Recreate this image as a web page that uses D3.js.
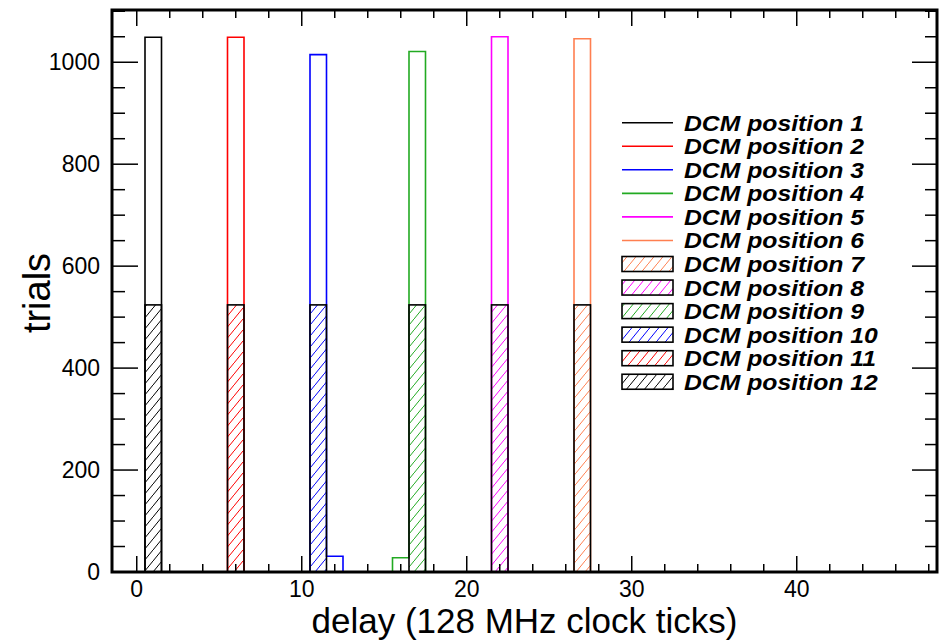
<!DOCTYPE html>
<html><head><meta charset="utf-8">
<script src="https://cdn.jsdelivr.net/npm/d3@7"></script>
<style>body{margin:0;background:#fff}svg{display:block}</style>
</head><body><svg id="c" width="942" height="640"></svg>
<script>
const seriesNames = ["DCM position 1","DCM position 2","DCM position 3","DCM position 4","DCM position 5","DCM position 6","DCM position 7","DCM position 8","DCM position 9","DCM position 10","DCM position 11","DCM position 12"];
const seriesColors = ["#000000","#ff0000","#0000ff","#22aa22","#ff00ff","#ff7f50","#ff7f50","#ff00ff","#22aa22","#0000ff","#ff0000","#000000"];
const seriesHatched = [false,false,false,false,false,false,true,true,true,true,true,true];
const seriesBins = [[1],[6],[11,12],[16,17],[22],[27],[27],[22],[17],[11],[6],[1]];
const seriesCounts = [[1049],[1049],[1015,31],[28,1021],[1050],[1046],[524],[524],[524],[524],[524],[524]];
const xTicks = [0,10,20,30,40];
const yTicks = [0,200,400,600,800,1000];
const xDomain = [-1.5, 48.5];
const binWidth = 1;

const L = 112, R = 937, T = 10, B = 572;
const svg = d3.select("#c");
const maxCount = d3.max(seriesCounts.flat());
const x = d3.scaleLinear().domain(xDomain).range([L, R]);
const y = d3.scaleLinear().domain([0, maxCount * 1.05]).range([B, T]);

// hatch patterns
const defs = svg.append("defs");
const hp = 9, hh = 11;
seriesColors.forEach((c, i) => {
  if (!seriesHatched[i]) return;
  const p = defs.append("pattern").attr("id", "hatch" + i)
    .attr("patternUnits", "userSpaceOnUse").attr("width", hp).attr("height", hh);
  p.append("line").attr("x1", -1).attr("y1", hh + hh / hp).attr("x2", hp + 1).attr("y2", -hh / hp)
    .attr("stroke", c).attr("stroke-width", 1);
});

const plot = svg.append("g");
// outline histograms first
seriesNames.forEach((n, i) => {
  if (seriesHatched[i]) return;
  const bins = seriesBins[i], counts = seriesCounts[i];
  let d = "";
  bins.forEach((b, k) => {
    const lo = b - binWidth / 2, hi = b + binWidth / 2;
    if (k === 0) d += `M${x(lo)},${y(0)}`;
    d += `V${y(counts[k])}H${x(hi)}`;
  });
  d += `V${y(0)}`;
  plot.append("path").attr("d", d).attr("fill", "none")
    .attr("stroke", seriesColors[i]).attr("stroke-width", 1.6);
});
// hatched histograms
seriesNames.forEach((n, i) => {
  if (!seriesHatched[i]) return;
  seriesBins[i].forEach((b, k) => {
    const lo = b - binWidth / 2, hi = b + binWidth / 2;
    plot.append("rect").attr("x", x(lo)).attr("y", y(seriesCounts[i][k]))
      .attr("width", x(hi) - x(lo)).attr("height", y(0) - y(seriesCounts[i][k]))
      .attr("fill", `url(#hatch${i})`).attr("stroke", "#000").attr("stroke-width", 1.6);
  });
});

// axes
const minorX = d3.range(-0, xDomain[1], 2).filter(v => v % 10 !== 0);
const minorY = d3.range(0, y.domain()[1], 50).filter(v => v % 200 !== 0);
const axG = svg.append("g").attr("stroke", "#000");
function tick(x1, y1, x2, y2) {
  axG.append("line").attr("x1", x1).attr("y1", y1).attr("x2", x2).attr("y2", y2).attr("stroke-width", 1.5);
}
xTicks.forEach(v => { tick(x(v), B, x(v), B - 16); tick(x(v), T, x(v), T + 16); });
minorX.forEach(v => { tick(x(v), B, x(v), B - 8); tick(x(v), T, x(v), T + 8); });
yTicks.forEach(v => { tick(L, y(v), L + 26, y(v)); tick(R, y(v), R - 25, y(v)); });
minorY.forEach(v => { tick(L, y(v), L + 13, y(v)); tick(R, y(v), R - 12, y(v)); });
svg.append("rect").attr("x", L).attr("y", T).attr("width", R - L).attr("height", B - T)
  .attr("fill", "none").attr("stroke", "#000").attr("stroke-width", 3);

const font = "'Liberation Sans', Arial, Helvetica, sans-serif";
svg.append("g").selectAll("text").data(xTicks).join("text")
  .attr("x", d => x(d)).attr("y", 596.5).attr("text-anchor", "middle")
  .attr("font-family", font).attr("font-size", 23).text(d => d);
svg.append("g").selectAll("text").data(yTicks).join("text")
  .attr("x", 100).attr("y", d => y(d) + 8).attr("text-anchor", "end")
  .attr("font-family", font).attr("font-size", 23).text(d => d);
svg.append("text").attr("x", (L + R) / 2).attr("y", 633).attr("text-anchor", "middle")
  .attr("font-family", font).attr("font-size", 35).text("delay (128 MHz clock ticks)");
svg.append("text").attr("transform", `translate(50,${(T + B) / 2 + 2}) rotate(-90)`).attr("text-anchor", "middle")
  .attr("font-family", font).attr("font-size", 38).text("trials");

// legend
const lg = svg.append("g");
seriesNames.forEach((n, i) => {
  const cy = 122.7 + i * 23.55;
  if (seriesHatched[i]) {
    lg.append("rect").attr("x", 622).attr("y", cy - 7.5).attr("width", 51).attr("height", 15)
      .attr("fill", `url(#hatch${i})`).attr("stroke", "#000").attr("stroke-width", 1.6);
  } else {
    lg.append("line").attr("x1", 622).attr("x2", 673).attr("y1", cy).attr("y2", cy)
      .attr("stroke", seriesColors[i]).attr("stroke-width", 1.6);
  }
  lg.append("text").attr("transform", `translate(684,${cy + 8}) scale(1.1,1)`).attr("font-family", font)
    .attr("font-size", 22.5).attr("font-weight", "bold").attr("font-style", "italic").text(n);
});
</script></body></html>
